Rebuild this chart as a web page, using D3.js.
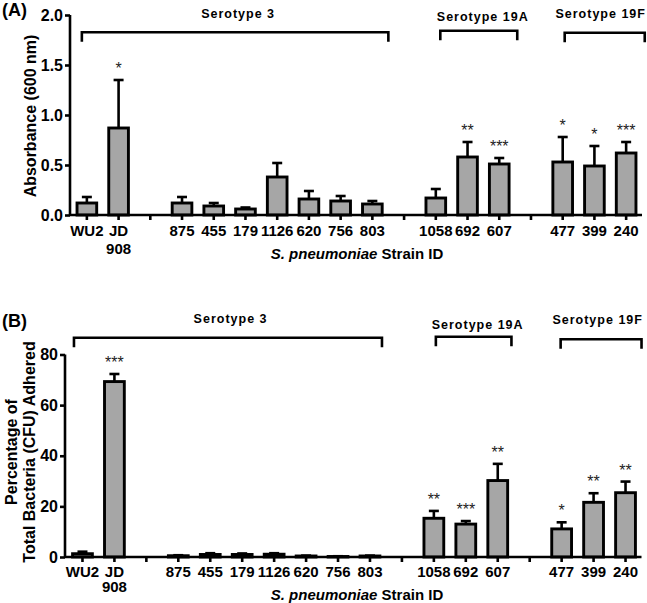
<!DOCTYPE html>
<html><head><meta charset="utf-8">
<script src="https://cdn.jsdelivr.net/npm/d3@7"></script>
<style>body{margin:0;background:#fff} svg text{font-family:"Liberation Sans",Arial,sans-serif}</style>
</head><body>
<svg id="c" width="647" height="603"></svg>
<script>
// ---------- data ----------
const slots = ["WU2","JD908","gap1","875","455","179","1126","620","756","803","gap2","1058","692","607","gap3","477","399","240"];
const strains = ["WU2","JD908","875","455","179","1126","620","756","803","1058","692","607","477","399","240"];
const tickLabels = [["WU2"],["JD","908"],["875"],["455"],["179"],["1126"],["620"],["756"],["803"],["1058"],["692"],["607"],["477"],["399"],["240"]];
const absMean = [0.12,0.87,0.12,0.09,0.06,0.38,0.16,0.14,0.11,0.17,0.58,0.51,0.53,0.49,0.62];
const absErr  = [0.06,0.48,0.06,0.03,0.015,0.14,0.08,0.05,0.03,0.09,0.15,0.06,0.25,0.20,0.11];
const absStars = ["","*","","","","","","","","","**","***","*","*","***"];
const cfuMean = [1.3,69.3,0.5,1.0,1.0,1.1,0.4,0.2,0.4,15.3,13.0,30.2,11.1,21.6,25.4];
const cfuErr  = [0.8,3.0,0.2,0.5,0.4,0.4,0.15,0.1,0.15,2.9,1.2,6.6,2.6,3.6,4.4];
const cfuStars = ["","***","","","","","","","","**","***","**","*","**","**"];
const absTicks = [0,0.5,1.0,1.5,2.0];
const cfuTicks = [0,20,40,60,80];
const serotypes = ["Serotype 3","Serotype 19A","Serotype 19F"];
const serotypeFrom = ["WU2","1058","477"];
const serotypeTo = ["803","607","240"];
const xTitleItalic = "S. pneumoniae";
const xTitleRest = " Strain ID";

// ---------- layout ----------
const panels = [
  {label:"(A)", labelY:15.5, mean:absMean, err:absErr, stars:absStars, ticks:absTicks, fmt:d3.format(".1f"),
   axisX:70, y0:215, yTop:15, xRange:[71,642], lab1:235.5, lab2:253.5, titleY:258.5,
   ytitle:[{t:"Absorbance (600 nm)", x:36}], ytitleY:116,
   brackets:[{d0:-5,d1:16,y:32.3,ly:17.5,ldx:3},{d0:4.5,d1:18,y:30.7,ly:20.5,ldx:4},{d0:2,d1:18.6,y:32.7,ly:17.5,ldx:-4}]},
  {label:"(B)", labelY:327, mean:cfuMean, err:cfuErr, stars:cfuStars, ticks:cfuTicks, fmt:d3.format("d"),
   axisX:65, y0:557, yTop:354.5, xRange:[66.5,641.5], lab1:576.5, lab2:592, titleY:600,
   ytitle:[{t:"Percentage of", x:17},{t:"Total Bacteria (CFU) Adhered", x:34.5}], ytitleY:452,
   brackets:[{d0:-8.5,d1:12,y:337.7,ly:322.5,ldx:2.6},{d0:2,d1:13.7,y:336.7,ly:328.5,ldx:4},{d0:-1,d1:16,y:339.3,ly:323.5,ldx:-3.4}]}
];

const svg = d3.select("#c");
const SW = 2.6;

panels.forEach(p => {
  const g = svg.append("g");
  const x = d3.scaleBand().domain(slots).range(p.xRange).paddingInner(0.38).paddingOuter(0.19);
  const cx = s => x(s) + x.bandwidth()/2;
  const y = d3.scaleLinear().domain([p.ticks[0], p.ticks[p.ticks.length-1]]).range([p.y0, p.yTop]);

  const data = strains.map((s,i) => ({s, m:p.mean[i], e:p.err[i], star:p.stars[i], lab:tickLabels[i]}));
  // error bars
  const eg = g.append("g").attr("stroke","#000").attr("stroke-width",SW).attr("fill","none");
  data.forEach(d => {
    const xc = cx(d.s);
    eg.append("line").attr("x1",xc).attr("x2",xc).attr("y1",y(d.m)).attr("y2",y(d.m+d.e));
    eg.append("line").attr("x1",xc-5).attr("x2",xc+5).attr("y1",y(d.m+d.e)).attr("y2",y(d.m+d.e));
  });
  // bars
  g.append("g").selectAll("rect").data(data).join("rect")
    .attr("x", d => x(d.s)).attr("width", x.bandwidth())
    .attr("y", d => y(d.m)).attr("height", d => Math.max(0, y(0)-y(d.m)))
    .attr("fill","#a6a6a6").attr("stroke","#000").attr("stroke-width",2.9);

  // stars
  g.append("g").selectAll("text").data(data.filter(d=>d.star)).join("text")
    .attr("x", d => cx(d.s)).attr("y", d => y(d.m+d.e) - 6)
    .attr("text-anchor","middle").attr("font-size",16).attr("fill","#222").text(d=>d.star);

  // y axis
  const ya = d3.axisLeft(y).tickValues(p.ticks).tickFormat(p.fmt).tickSize(5).tickPadding(2);
  const yg = g.append("g").attr("transform",`translate(${p.axisX},0)`).call(ya);
  yg.select(".domain").attr("stroke-width",SW).attr("d",`M0,${p.y0}V${p.yTop}`);
  yg.selectAll(".tick line").attr("stroke-width",SW);
  yg.selectAll(".tick text").attr("font-size",16).attr("font-weight","bold").attr("fill","#000")
    .attr("font-family","Liberation Sans, Arial, sans-serif");

  // x axis
  g.append("line").attr("x1",p.axisX).attr("x2",p.xRange[1]).attr("y1",p.y0).attr("y2",p.y0)
    .attr("stroke","#000").attr("stroke-width",SW);
  g.append("g").selectAll("line").data(slots).join("line")
    .attr("x1", s=>cx(s)).attr("x2", s=>cx(s)).attr("y1",p.y0).attr("y2",p.y0+5)
    .attr("stroke","#000").attr("stroke-width",SW);
  const lg = g.append("g").attr("font-size",15).attr("font-weight","bold").attr("text-anchor","middle");
  data.forEach(d => {
    d.lab.forEach((t,k) => {
      lg.append("text").attr("x",cx(d.s)).attr("y", k===0 ? p.lab1 : p.lab2).text(t);
    });
  });

  // x title
  const xt = g.append("text").attr("x",357).attr("y",p.titleY).attr("text-anchor","middle")
    .attr("font-size",15).attr("font-weight","bold");
  xt.append("tspan").attr("font-style","italic").text(xTitleItalic);
  xt.append("tspan").text(xTitleRest);

  // y title
  p.ytitle.forEach(l => {
    g.append("text").attr("transform",`translate(${l.x},${p.ytitleY}) rotate(-90)`)
      .attr("text-anchor","middle").attr("font-size",16).attr("font-weight","bold").text(l.t);
  });

  // panel label
  g.append("text").attr("x",2).attr("y",p.labelY).attr("font-size",18).attr("font-weight","bold").text(p.label);

  // brackets
  serotypes.forEach((name,i) => {
    const b = p.brackets[i];
    const x0 = cx(serotypeFrom[i]) + b.d0, x1 = cx(serotypeTo[i]) + b.d1;
    g.append("path").attr("d",`M${x0},${b.y+9.5}V${b.y}H${x1}V${b.y+9.5}`)
      .attr("fill","none").attr("stroke","#000").attr("stroke-width",SW);
    g.append("text").attr("x",(x0+x1)/2 + b.ldx).attr("y",b.ly).attr("text-anchor","middle")
      .attr("font-size",12.5).attr("font-weight","bold").attr("letter-spacing","1px").text(name);
  });
});
</script>
</body></html>
